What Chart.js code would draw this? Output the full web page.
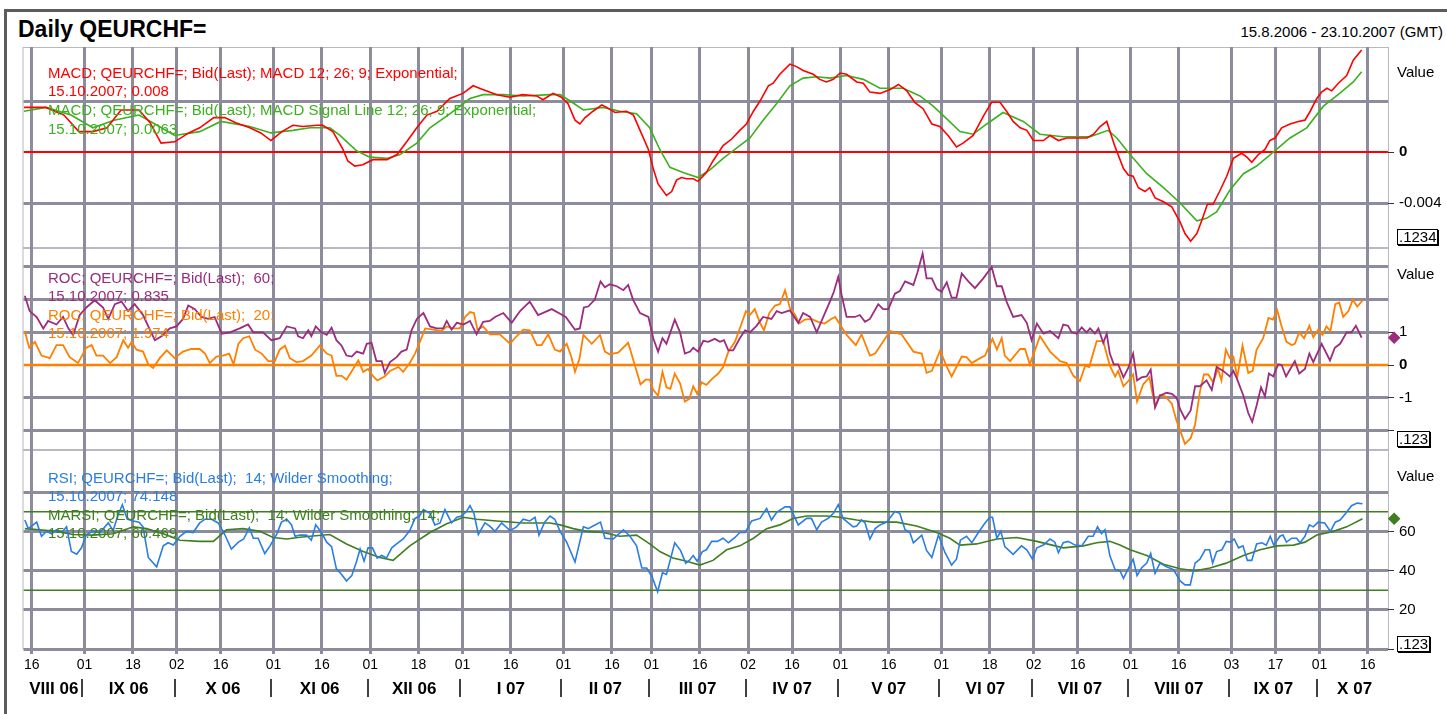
<!DOCTYPE html>
<html>
<head>
<meta charset="utf-8">
<title>Daily QEURCHF=</title>
<script src="https://cdn.jsdelivr.net/npm/chart.js@4.4.1/dist/chart.umd.min.js"></script>
<style>
  html, body { margin: 0; padding: 0; background: #fff; }
  body { position: relative; width: 1447px; height: 714px; overflow: hidden; font-family: 'Liberation Sans', Arial, sans-serif; }
  .frame { position: absolute; left: 4px; top: 9px; width: 1500px; height: 800px; border-top: 3px solid #5c5c5c; border-left: 3px solid #5c5c5c; }
  canvas { position: absolute; left: 0; }
  .t { position: absolute; white-space: pre; line-height: 1; font-size: 15px; }
  .box { position: absolute; border: 1px solid #000; box-shadow: 1px 1px 0 #000; font-size: 15px; line-height: 14px; height: 16px; padding-left: 1px; box-sizing: border-box; }
</style>
</head>
<body>
<div class="frame"></div>
<canvas id="macd" width="1447" height="201" style="top:47px"></canvas>
<canvas id="roc" width="1447" height="202" style="top:248px"></canvas>
<canvas id="rsi" width="1447" height="264" style="top:450px"></canvas>

<div class="t" style="left:18px;top:17.5px;font-size:23px;font-weight:bold">Daily QEURCHF=</div>
<div class="t" style="right:4px;top:23.6px">15.8.2006 - 23.10.2007 (GMT)</div>

<div class="t" style="left:48px;top:64.6px;color:#ff0000">MACD; QEURCHF=; Bid(Last); MACD 12; 26; 9; Exponential;</div>
<div class="t" style="left:48px;top:83.4px;color:#ff0000">15.10.2007; 0.008</div>
<div class="t" style="left:48px;top:102.1px;color:#3cb01e">MACD; QEURCHF=; Bid(Last); MACD Signal Line 12; 26; 9; Exponential;</div>
<div class="t" style="left:48px;top:120.6px;color:#3cb01e">15.10.2007; 0.0063</div>

<div class="t" style="left:48px;top:269.6px;color:#9b2c7e">ROC; QEURCHF=; Bid(Last);  60;</div>
<div class="t" style="left:48px;top:288.1px;color:#9b2c7e">15.10.2007; 0.835</div>
<div class="t" style="left:48px;top:306.6px;color:#ff8000">ROC; QEURCHF=; Bid(Last);  20;</div>
<div class="t" style="left:48px;top:325.1px;color:#ff8000">15.10.2007; 1.974</div>

<div class="t" style="left:48px;top:469.6px;color:#2a7de1">RSI; QEURCHF=; Bid(Last);  14; Wilder Smoothing;</div>
<div class="t" style="left:48px;top:487.6px;color:#2a7de1">15.10.2007; 74.148</div>
<div class="t" style="left:48px;top:506.6px;color:#3f7f1f">MARSI; QEURCHF=; Bid(Last);  14; Wilder Smoothing; 14;</div>
<div class="t" style="left:48px;top:524.6px;color:#3f7f1f">15.10.2007; 66.469</div>

<div class="t" style="left:1397px;top:63.6px">Value</div>
<div class="t" style="left:1397px;top:265.6px">Value</div>
<div class="t" style="left:1397px;top:467.6px">Value</div>
<div class="box" style="left:1397px;top:229px;width:41px">.1234</div>
<div class="box" style="left:1397px;top:431px;width:33px">.123</div>
<div class="box" style="left:1397px;top:636px;width:33px">.123</div>

<script>
// x positions are trading days counted from 15.8.2006 (= 0)
const dayTicks = [1, 13, 24, 34, 44, 56, 67, 78, 89, 99, 110, 122, 133, 142, 153, 164, 174, 185, 196, 208, 219, 229, 239, 251, 262, 274, 284, 294, 305];
const dayTickLabels = ['16', '01', '18', '02', '16', '01', '16', '01', '18', '01', '16', '01', '16', '01', '16', '02', '16', '01', '16', '01', '18', '02', '16', '01', '16', '03', '17', '01', '16'];
const monthLabels = ['VIII 06', 'IX 06', 'X 06', 'XI 06', 'XII 06', 'I 07', 'II 07', 'III 07', 'IV 07', 'V 07', 'VI 07', 'VII 07', 'VIII 07', 'IX 07', 'X 07'];
const monthStarts = [0, 13, 34, 56, 78, 99, 122, 142, 164, 185, 208, 229, 251, 274, 294];
const lastDay = 310;

// MACD 12;26;9
const macdDays = [-0.8, 4.2, 8.3, 11.7, 14.9, 18.1, 21.3, 25.4, 27.9, 30.4,
  33.5, 36.7, 39.2, 42.4, 44.9, 47.4, 50.6, 53.1, 55.4, 57.9,
  60.4, 62.7, 65.9, 67.2, 69.5, 71.8, 72.9, 74.5, 76.3, 78.6,
  81.8, 84.1, 86.3, 88.6, 90.9, 93.2, 96.1, 99.1, 101.4, 103.6,
  106.8, 109.8, 112.7, 115.9, 117.3, 119.6, 121.5, 123.0, 124.6, 125.7,
  126.9, 128.7, 130.7, 131.8, 133.7, 136.3, 137.9, 139.4, 141.3, 142.4,
  143.5, 145.4, 146.6, 147.7, 148.8, 150.0, 151.5, 152.6, 154.5, 156.0,
  158.3, 160.2, 162.1, 163.6, 165.2, 166.7, 168.6, 169.7, 171.2, 173.5,
  175.0, 176.5, 178.8, 180.3, 181.8, 183.4, 184.9, 186.4, 188.7, 190.2,
  191.7, 194.0, 196.3, 198.2, 200.1, 201.9, 203.8, 205.8, 207.6, 209.5,
  211.4, 212.9, 215.2, 217.5, 219.4, 221.3, 222.8, 224.3, 225.9, 227.4,
  228.9, 231.2, 232.7, 234.6, 236.5, 238.8, 241.1, 242.6, 244.1, 245.6,
  247.4, 249.4, 250.5, 251.6, 252.8, 254.3, 255.4, 256.6, 258.5, 260.4,
  262.3, 263.4, 264.7, 266.1, 267.2, 268.5, 269.8, 271.4, 272.9, 274.4,
  276.3, 277.5, 278.6, 280.1, 281.6, 282.7, 283.9, 285.4, 287.3, 289.2,
  290.7, 291.9, 293.4, 294.5, 295.7, 296.8, 298.3, 300.2, 301.7, 303.6];
const macdValues = [0.0035, 0.0035, 0.0029, 0.0016, 0.0016, 0.0019, 0.0033, 0.0033, 0.0023, 0.0007,
  0.0008, 0.0015, 0.0019, 0.0027, 0.0027, 0.0023, 0.0019, 0.0015, 0.0009, 0.0016,
  0.0021, 0.0020, 0.0021, 0.0021, 0.0016, 0.0002, -0.0007, -0.0011, -0.0010, -0.0006,
  -0.0006, -0.0002, 0.0008, 0.0019, 0.0029, 0.0032, 0.0042, 0.0046, 0.0052, 0.0049,
  0.0045, 0.0043, 0.0045, 0.0044, 0.0041, 0.0046, 0.0043, 0.0038, 0.0025, 0.0022,
  0.0027, 0.0032, 0.0037, 0.0035, 0.0031, 0.0032, 0.0029, 0.0017, 0.0002, -0.0013,
  -0.0025, -0.0034, -0.0031, -0.0022, -0.0020, -0.0021, -0.0021, -0.0023, -0.0016, -0.0007,
  0.0005, 0.0010, 0.0017, 0.0022, 0.0032, 0.0040, 0.0052, 0.0054, 0.0061, 0.0069,
  0.0067, 0.0064, 0.0061, 0.0057, 0.0055, 0.0057, 0.0062, 0.0061, 0.0055, 0.0054,
  0.0047, 0.0046, 0.0049, 0.0053, 0.0048, 0.0039, 0.0034, 0.0022, 0.0020, 0.0013,
  0.0004, 0.0007, 0.0013, 0.0028, 0.0039, 0.0039, 0.0032, 0.0024, 0.0019, 0.0017,
  0.0009, 0.0009, 0.0013, 0.0009, 0.0011, 0.0011, 0.0011, 0.0014, 0.0020, 0.0024,
  0.0005, -0.0013, -0.0018, -0.0019, -0.0028, -0.0031, -0.0028, -0.0036, -0.0039, -0.0043,
  -0.0055, -0.0064, -0.0070, -0.0064, -0.0054, -0.0041, -0.0041, -0.0030, -0.0019, -0.0005,
  -0.0001, -0.0004, -0.0008, -0.0002, 0.0002, 0.0009, 0.0011, 0.0019, 0.0022, 0.0024,
  0.0025, 0.0032, 0.0042, 0.0047, 0.0050, 0.0048, 0.0054, 0.0060, 0.0072, 0.0080];

// MACD signal line
const signalDays = [-0.8, 4.2, 9.9, 14.9, 19.7, 25.4, 29.5, 33.5, 39.2, 44.0,
  50.6, 55.4, 60.4, 64.3, 68.8, 71.1, 74.9, 77.9, 81.7, 84.8,
  88.6, 91.6, 96.1, 100.7, 103.7, 108.3, 112.8, 118.9, 121.2, 123.5,
  126.5, 131.0, 134.8, 138.6, 141.6, 143.9, 146.2, 149.2, 152.6, 155.3,
  158.3, 162.1, 164.4, 167.4, 170.5, 173.5, 176.5, 179.6, 182.6, 186.4,
  190.2, 194.0, 199.3, 203.1, 206.1, 209.2, 212.2, 215.2, 218.3, 222.0,
  226.6, 230.4, 235.7, 241.8, 245.9, 247.9, 250.9, 254.7, 258.5, 262.3,
  266.1, 268.3, 270.6, 273.6, 276.7, 279.7, 283.5, 287.3, 291.1, 294.9,
  298.6, 301.7, 303.6];
const signalValues = [0.0032, 0.0035, 0.0029, 0.0019, 0.0025, 0.0029, 0.0021, 0.0013, 0.0016, 0.0024,
  0.0020, 0.0015, 0.0017, 0.0019, 0.0019, 0.0013, 0.0001, -0.0004, -0.0005, -0.0002,
  0.0007, 0.0019, 0.0030, 0.0042, 0.0045, 0.0045, 0.0044, 0.0045, 0.0045, 0.0040,
  0.0033, 0.0035, 0.0032, 0.0030, 0.0019, 0.0002, -0.0012, -0.0016, -0.0020, -0.0014,
  -0.0005, 0.0005, 0.0011, 0.0025, 0.0038, 0.0052, 0.0058, 0.0059, 0.0058, 0.0060,
  0.0057, 0.0050, 0.0050, 0.0044, 0.0036, 0.0026, 0.0016, 0.0014, 0.0022, 0.0031,
  0.0024, 0.0014, 0.0012, 0.0012, 0.0017, 0.0011, -0.0002, -0.0017, -0.0028, -0.0040,
  -0.0054, -0.0052, -0.0047, -0.0030, -0.0017, -0.0011, 0.0000, 0.0011, 0.0019, 0.0036,
  0.0046, 0.0055, 0.0063];

// ROC 60
const roc60Days = [-0.6, 0.5, 2.1, 3.6, 4.7, 6.6, 8.1, 9.3, 10.4, 11.9,
  13.4, 15.3, 17.2, 18.4, 19.9, 21.4, 22.9, 24.4, 26.3, 27.5,
  29.0, 30.5, 32.4, 33.9, 35.4, 36.6, 38.1, 39.6, 41.1, 42.6,
  44.2, 46.1, 48.3, 50.2, 51.4, 53.6, 55.5, 57.4, 59.0,
  60.9, 61.6, 62.7, 63.9, 64.6, 65.6, 66.9, 68.1, 69.2, 70.3,
  71.5, 72.6, 73.8, 74.9, 76.4, 77.2, 78.3, 79.4, 80.6, 81.3,
  82.5, 84.0, 85.1, 86.3, 87.4, 88.6, 90.1, 91.6, 93.1, 94.6,
  95.4, 96.5, 97.7, 99.2, 100.7, 102.2, 103.7, 105.2, 106.4, 108.3,
  110.2, 112.1, 114.3, 116.2, 119.3, 121.2,
  122.5, 124.6, 125.7, 126.6, 127.6, 129.1, 130.4, 131.4, 132.5, 134.1,
  135.6, 136.7, 137.8, 139.4, 141.3, 142.4, 143.5, 144.5, 145.4, 147.3,
  148.5, 149.6, 150.8, 151.5, 152.6, 153.8, 154.9, 156.4, 157.6, 158.5,
  159.5, 160.6, 162.1, 163.3, 164.4, 165.9, 167.4, 169.3, 170.5, 171.6,
  173.5, 175.4, 176.5, 178.1, 179.6, 181.1,
  182.6, 183.5, 184.5, 185.3, 186.4, 188.3, 189.4, 190.6, 191.7, 193.6,
  194.7, 195.9, 197.4, 198.5, 199.7, 201.6, 202.5, 203.7, 204.6, 205.8,
  206.9, 208.0, 209.2, 210.3, 211.4, 212.6, 214.1, 215.6, 217.5, 219.4,
  220.6, 221.7, 222.8, 224.3, 226.2, 227.4, 228.5, 229.7, 231.2, 232.7,
  234.6, 235.7, 236.8, 237.6, 238.8, 239.9, 241.0, 241.8, 242.9, 243.7,
  244.8, 245.6, 246.3, 247.2, 248.2, 249.4, 250.5, 251.6, 252.5, 253.5,
  254.7, 255.6, 256.6, 257.7, 259.2, 260.4, 261.5, 262.3, 263.4, 264.7,
  265.7, 266.8, 268.3, 269.5, 270.6, 272.1, 273.6, 274.4, 275.2, 276.7,
  277.8, 278.7, 279.7, 280.7, 281.6, 282.5, 283.5, 284.6, 285.4, 286.4,
  287.5, 288.4, 289.4, 290.7, 291.7, 292.6, 294.5, 296.4, 297.5, 298.7,
  300.2, 301.3, 302.3, 303.6];
const roc60Values = [2.12, 1.65, 1.47, 1.12, 1.35, 1.24, 1.47, 1.12, 0.92, 1.53,
  1.76, 1.98, 1.76, 1.41, 1.86, 1.94, 1.65, 1.86, 1.53, 1.18,
  0.76, 0.88, 1.12, 1.18, 1.41, 1.82, 1.71, 1.47, 1.41, 1.47,
  0.96, 1.00, 1.12, 1.24, 1.00, 1.00, 0.76, 0.82, 1.18,
  1.12, 0.88, 0.82, 1.06, 0.88, 1.18, 1.00, 0.92, 1.14, 0.76,
  0.59, 0.29, 0.26, 0.41, 0.35, 0.65, 0.68, 0.12, 0.12, -0.24,
  0.09, 0.24, 0.41, 0.47, 1.06, 1.41, 1.59, 1.18, 1.12, 1.12,
  1.35, 1.08, 1.29, 1.24, 1.35, 0.94, 1.32, 1.35, 1.47, 1.59,
  1.29, 1.65, 1.94, 1.53, 1.71, 1.57,
  1.47, 1.08, 1.12, 1.76, 1.79, 2.00, 2.56, 2.38, 2.47, 2.41,
  2.29, 2.45, 2.00, 1.59, 1.47, 0.82, 0.41, 0.82, 0.65, 1.39,
  1.00, 0.35, 0.41, 0.53, 0.41, 0.74, 0.71, 0.80, 0.71, 0.76,
  0.45, 0.45, 0.82, 1.06, 1.00, 1.20, 1.47, 1.41, 1.65, 1.59,
  1.67, 1.29, 1.59, 1.47, 1.00, 1.47,
  1.94, 2.24, 2.70, 2.12, 1.47, 1.47, 1.53, 1.32, 1.41, 1.86,
  1.71, 1.71, 2.18, 2.26, 2.56, 2.45, 2.82, 3.41, 2.65, 2.65,
  2.33, 2.24, 2.53, 2.06, 2.06, 2.80, 2.56, 2.35, 2.65, 3.00,
  2.41, 2.41, 1.94, 1.47, 1.53, 1.29, 0.76, 1.27, 0.96, 1.04,
  0.82, 1.24, 1.20, 1.00, 0.96, 1.15, 1.00, 1.12, 0.96, 1.12,
  0.68, 0.96, 0.35, 0.02, 0.02, -0.38, -0.09, 0.35, -0.47, -0.38,
  -0.35, -0.14, -1.29, -0.94, -0.85, -0.88, -1.00, -1.35, -1.65, -1.39,
  -0.65, -0.65, -0.47, -0.76, -0.06, -0.18, -0.35, -0.18, -0.41, -0.94,
  -1.47, -1.74, -1.24, -0.68, -0.96, -0.26, -0.35, 0.02, 0.00, -0.35,
  -0.09, 0.12, -0.26, -0.12, 0.35, 0.09, 0.65, 0.14, 0.53, 0.65,
  1.00, 1.00, 1.20, 0.835];

// ROC 20
const roc20Days = [-0.6, 0.4, 1.7, 3.2, 5.1, 6.6, 8.1, 9.6, 11.5, 13.4,
  14.6, 15.7, 17.2, 18.8, 20.3, 21.8, 22.9, 23.7, 24.8, 26.3,
  27.5, 28.6, 30.1, 31.7, 33.5, 35.4, 37.3, 39.2, 40.4, 41.5,
  43.0, 44.5, 45.9, 46.9, 48.0, 49.1, 50.5, 51.8, 53.3, 54.8,
  56.3, 57.4, 58.6,
  59.7, 61.2, 62.7, 64.6, 66.5, 68.1, 69.2, 70.3, 71.5, 72.6,
  74.1, 75.3, 76.4, 77.5, 78.7, 79.6, 81.3, 82.5, 84.4, 85.5,
  87.0, 88.2, 89.3, 90.5, 92.3, 94.2, 95.4, 96.9, 98.4, 99.6,
  100.7, 101.6, 102.4, 103.7, 105.2, 107.5, 109.8, 111.3, 112.8, 114.3,
  115.9, 117.0, 118.5, 120.0,
  121.2, 122.7, 123.8, 124.6, 125.6, 126.5, 128.4, 130.3, 131.4, 132.5,
  134.4, 136.7, 138.2, 139.5, 140.7, 141.6, 142.4, 143.5, 144.5, 145.4,
  146.3, 147.3, 148.5, 149.6, 150.6, 151.5, 152.4, 153.4, 154.5, 155.9,
  157.2, 158.3, 159.5, 161.0, 162.5, 163.5, 164.4, 165.5, 166.7, 167.6,
  168.8, 170.1, 171.2, 172.4, 173.5, 174.7, 175.6, 176.9, 178.4, 179.9,
  181.4, 182.9,
  183.8, 184.9, 186.4, 188.5, 189.8, 191.7, 192.9, 194.7, 196.3, 198.9,
  201.6, 203.5, 204.6, 205.8, 207.7, 209.2, 210.3, 212.6, 213.7, 214.9,
  216.4, 217.9, 219.6, 220.6, 221.7, 222.4, 223.6, 225.9, 227.0, 228.1,
  230.4, 232.7, 235.0, 236.5, 238.0, 239.5, 240.7, 241.6, 243.3, 244.8,
  246.3, 247.5, 248.2, 249.4, 250.5, 251.6, 252.5, 253.9, 255.3, 256.6,
  257.7, 258.9, 260.4, 261.5, 263.4, 264.7, 265.7, 266.8, 267.7, 268.7,
  269.8, 270.9, 271.7, 272.7, 273.6, 274.4, 275.3, 276.5, 277.8, 278.8,
  279.7, 281.2, 282.4, 283.4, 284.4, 285.4, 286.5, 287.7, 288.4, 289.4,
  290.5, 291.7, 292.6, 293.7, 294.7, 295.6, 296.5, 297.6, 298.5, 299.4,
  300.6, 301.6, 302.6, 303.8];
const roc20Values = [1.04, 0.53, 0.71, 0.29, 0.21, 0.61, 0.61, 0.24, 0.06, 0.53,
  0.61, 0.29, 0.29, 0.06, 0.24, 0.76, 0.53, 0.71, 0.47, 0.41,
  0.02, -0.09, 0.21, 0.45, 0.21, 0.41, 0.49, 0.49, 0.35, 0.06,
  0.26, 0.29, 0.35, 0.02, 0.65, 0.82, 0.88, 0.47, 0.35, 0.12,
  0.12, 0.47, 0.59,
  0.21, 0.09, 0.12, 0.29, 0.59, 0.35, 0.29, -0.33, -0.33, -0.45,
  -0.12, 0.14, -0.21, -0.12, -0.35, -0.47, -0.35, -0.18, -0.06, -0.21,
  0.06, 0.35, 0.71, 1.12, 1.08, 1.04, 1.18, 1.12, 1.12, 1.47,
  1.62, 1.59, 1.08, 1.18, 0.94, 0.94, 0.65, 0.88, 1.08, 1.06,
  0.61, 0.61, 0.94, 0.47,
  0.41, 0.65, 0.24, -0.21, 0.18, 0.92, 0.65, 0.92, 0.41, 0.33,
  0.38, 0.68, 0.00, -0.59, -0.45, -0.45, -0.76, -0.94, -0.21, -0.68,
  -0.73, -0.26, -0.56, -1.12, -1.04, -0.65, -0.88, -0.53, -0.61, -0.41,
  -0.26, -0.06, 0.41, 0.71, 1.27, 1.65, 1.53, 1.71, 1.29, 1.06,
  1.59, 1.82, 1.86, 2.29, 1.74, 1.53, 1.27, 1.39, 1.41, 1.32,
  1.27, 1.41,
  1.47, 1.24, 0.92, 0.61, 0.94, 0.29, 0.35, 0.71, 1.04, 0.94,
  0.41, 0.35, -0.24, -0.18, 0.45, -0.06, -0.35, 0.26, 0.24, 0.06,
  0.18, 0.29, 0.80, 0.47, 0.82, 0.29, 0.12, 0.49, 0.49, 0.02,
  0.88, 0.41, 0.12, 0.06, -0.33, -0.49, -0.02, -0.06, 0.73, 0.73,
  -0.02, -0.35, -0.18, -0.65, -0.49, -0.29, -1.12, -0.59, -0.38, -1.29,
  -0.92, -0.96, -1.18, -1.71, -2.41, -2.24, -1.82, -0.82, -0.29, -0.29,
  -0.53, -0.12, -0.47, 0.47, 0.21, 0.26, -0.38, 0.59, -0.24, -0.18,
  0.47, 0.82, 1.44, 1.39, 1.67, 1.18, 0.71, 0.61, 0.65, 1.00,
  0.82, 1.20, 0.85, 1.08, 0.92, 1.18, 1.04, 1.86, 1.91, 1.47,
  1.65, 2.00, 1.79, 1.974];

// RSI 14
const rsiDays = [-0.6, 0.2, 1.3, 2.1, 3.2, 4.3, 5.5, 6.6, 7.8, 8.9,
  10.0, 11.2, 12.3, 13.4, 14.9, 16.5, 18.4, 19.5, 20.6, 21.6,
  22.7, 24.1, 25.4, 26.3, 27.5, 29.4, 30.9, 32.0, 33.2, 34.7,
  36.2, 37.7, 39.2, 40.4, 41.9, 43.4, 44.9, 46.4, 48.0, 49.2,
  50.5, 51.4, 52.5, 54.0, 55.2, 56.7, 57.8, 59.0, 60.1,
  60.9, 62.0, 63.5, 64.6, 65.6, 66.9, 68.1, 69.2, 70.3, 71.5,
  72.6, 73.8, 74.9, 75.7, 76.6, 77.5, 78.5, 79.6, 80.6, 81.7,
  82.9, 84.0, 85.5, 87.0, 88.2, 89.2, 90.1, 91.6, 92.7, 93.9,
  95.0, 96.5, 97.7, 98.8, 99.9, 100.7, 101.6, 102.6, 104.1, 105.2,
  106.4, 107.9, 109.8, 111.3, 112.8, 114.3, 115.5, 116.4, 117.7, 118.9,
  120.0,
  121.2, 122.7, 124.6, 126.5, 127.6, 128.7, 130.4, 131.4, 133.3, 135.6,
  137.1, 138.6, 139.8, 140.9, 142.1, 143.4, 144.5, 145.4, 147.3, 148.6,
  149.8, 150.6, 151.5, 152.4, 153.6, 154.5, 155.7, 157.0, 158.3, 159.5,
  161.0, 162.1, 163.3, 164.8, 166.7, 168.2, 169.3, 170.5, 172.4, 173.5,
  175.4, 177.3, 178.4, 179.6, 180.7, 182.2,
  183.4, 184.5, 185.6, 186.8, 187.9, 188.7, 189.8, 190.6, 191.7, 192.9,
  194.0, 195.5, 197.4, 198.5, 199.7, 200.8, 201.6, 203.5, 204.6, 205.8,
  207.3, 208.8, 210.3, 211.4, 212.3, 213.7, 214.9, 216.4, 217.9, 219.0,
  219.6, 220.6, 221.5, 222.4, 224.3, 226.2, 227.4, 228.7, 229.7, 231.2,
  232.7, 233.8, 234.6, 235.7, 236.8, 238.4, 239.9, 241.4, 242.5, 243.5,
  244.4, 245.2, 246.3,
  247.5, 248.6, 249.4, 250.7, 251.6, 252.5, 253.5, 254.7, 255.6, 256.6,
  257.7, 259.2, 260.8, 262.3, 263.4, 264.6, 265.7, 266.8, 268.0, 269.0,
  269.7, 270.6, 271.8, 272.8, 273.8, 274.6, 275.6, 276.6, 277.6, 278.6,
  279.7, 280.9, 281.9, 282.8, 283.6, 285.0, 285.7, 286.5, 287.7, 288.8,
  289.6, 290.7, 291.7, 292.6, 293.7, 295.2, 296.5, 297.6, 298.7, 300.0,
  301.3, 302.6, 303.8];
const rsiValues = [65.8, 61.4, 63.3, 64.7, 57.5, 60.0, 58.8, 60.8, 59.4, 62.3,
  49.7, 48.3, 51.6, 58.4, 60.0, 59.4, 64.3, 60.4, 68.2, 73.6,
  66.2, 65.3, 64.7, 62.3, 46.7, 41.9, 52.6, 54.2, 53.0, 57.5,
  60.0, 59.4, 64.3, 66.2, 66.2, 64.3, 58.4, 51.0, 54.5, 56.1,
  61.9, 56.5, 56.5, 48.7, 52.6, 58.4, 64.7, 66.2, 63.3,
  57.5, 58.1, 58.1, 55.5, 63.3, 59.4, 54.5, 52.2, 40.9, 38.0,
  34.7, 37.4, 44.8, 51.0, 44.8, 51.6, 51.6, 46.4, 47.7, 46.4,
  51.6, 53.6, 56.1, 60.4, 66.6, 67.8, 71.1, 69.2, 63.3, 64.3,
  71.1, 64.3, 67.2, 67.8, 70.1, 73.1, 69.2, 58.4, 64.3, 62.7,
  60.0, 64.3, 60.4, 62.3, 66.2, 65.3, 67.2, 58.1, 64.7, 67.8,
  66.2,
  60.0, 54.5, 44.4, 62.3, 61.4, 62.7, 64.7, 56.5, 56.1, 60.8,
  57.5, 52.6, 41.3, 41.3, 37.0, 29.2, 38.9, 38.0, 54.2, 50.3,
  43.8, 45.2, 47.7, 44.8, 49.7, 50.6, 54.9, 54.9, 56.5, 54.2,
  56.9, 59.4, 59.4, 65.3, 66.6, 71.7, 65.8, 69.7, 72.5, 72.5,
  63.3, 66.6, 66.6, 60.8, 64.7, 66.6,
  69.2, 73.6, 66.6, 64.3, 62.3, 62.7, 65.8, 64.3, 56.1, 61.4,
  63.3, 64.7, 70.1, 69.2, 60.8, 59.4, 54.2, 58.1, 50.3, 46.7,
  58.1, 49.1, 42.8, 45.8, 55.5, 57.5, 54.2, 59.4, 64.3, 67.2,
  67.2, 56.5, 60.0, 52.2, 48.3, 52.6, 50.6, 45.8, 51.6, 53.0,
  56.1, 54.5, 49.1, 54.2, 54.9, 53.0, 52.6, 57.5, 57.5, 62.3,
  58.8, 60.8, 47.7,
  40.5, 39.9, 36.0, 41.9, 45.8, 37.4, 41.3, 43.8, 48.7, 38.6,
  43.8, 41.9, 40.5, 34.7, 32.7, 32.7, 43.8, 45.8, 50.6, 50.6,
  43.8, 49.7, 50.6, 54.9, 54.5, 56.1, 51.6, 52.6, 45.2, 45.2,
  53.6, 54.2, 53.0, 57.5, 53.0, 57.5, 58.1, 54.5, 56.5, 56.5,
  54.2, 57.5, 63.3, 62.3, 64.7, 64.3, 60.0, 64.7, 65.8, 69.2,
  73.1, 74.4, 74.1];

// MARSI 14
const marsiDays = [-0.6, 2.8, 6.6, 10.4, 14.9, 19.5, 24.1, 27.1, 30.9, 34.7,
  39.2, 42.3, 45.3, 49.1, 52.9, 55.9, 59.0, 62.0, 64.3, 68.8,
  72.6, 76.4, 80.2, 83.2, 87.0, 91.6, 95.4, 99.2, 102.2, 106.8,
  112.8, 118.9, 121.2, 124.2, 127.2, 131.0, 134.8, 138.6, 141.6, 143.9,
  146.9, 150.0, 153.0, 156.0, 159.1, 162.1, 165.2, 168.2, 171.2, 174.2,
  177.3, 181.8, 184.9, 188.7, 192.5, 197.8, 202.3, 206.9, 209.9, 212.2,
  216.0, 220.6, 225.1, 229.7, 235.7, 240.3, 243.3, 246.3, 248.6, 250.9,
  254.7, 258.5, 262.3, 265.7, 269.1, 272.8, 276.7, 280.5, 284.3, 288.1,
  290.7, 293.4, 297.2, 300.2, 303.8];
const marsiValues = [61.4, 60.8, 60.0, 58.4, 58.1, 58.8, 62.3, 61.4, 58.8, 55.5,
  54.9, 54.9, 60.8, 61.4, 60.0, 56.9, 56.1, 57.0, 57.5, 58.4,
  53.6, 49.7, 46.7, 45.2, 52.6, 59.4, 63.9, 67.2, 66.2, 65.3,
  64.3, 64.3, 63.3, 61.4, 60.0, 59.4, 57.5, 58.1, 53.6, 49.7,
  46.4, 44.8, 42.8, 45.2, 50.6, 52.6, 56.5, 61.4, 63.3, 66.6,
  67.8, 67.8, 67.2, 65.8, 64.7, 64.7, 62.7, 59.4, 56.5, 53.0,
  53.6, 56.1, 56.9, 54.9, 51.6, 52.6, 54.2, 54.9, 53.0, 50.6,
  47.7, 43.2, 40.9, 39.9, 41.3, 43.8, 47.7, 50.6, 52.6, 53.0,
  54.5, 58.1, 60.0, 62.3, 66.469];

const rsiLevels = [70, 30];
const macdTicks = [-0.004, 0, 0.004], macdTickLabels = ['-0.004', '0', ''];
const rocTicks = [-2, -1, 0, 1, 2, 3], rocTickLabels = ['', '-1', '0', '1', '', ''];
const rsiTicks = [0, 20, 40, 60, 80], rsiTickLabels = ['', '20', '40', '60', ''];

const FONT = "'Liberation Sans', Arial, sans-serif";
const GRID = '#8c8c9c';
const X_MIN = -0.9, X_MAX = 309.6;
const PLOT_LEFT = 23.5, AXIS_W = 59;
const markerDay = 311;

Chart.defaults.font.family = FONT;

function pts(days, values) {
  return days.map((d, k) => ({ x: d, y: values[k] }));
}
function flat(v) {
  return [{ x: X_MIN, y: v }, { x: X_MAX, y: v }];
}
function line(data, color, width) {
  return { data, borderColor: color, borderWidth: width, pointRadius: 0, fill: false, tension: 0 };
}
function marker(y, color) {
  return {
    data: [{ x: markerDay, y }], showLine: false, clip: false,
    pointStyle: 'rectRot', pointRadius: 4.5, pointBorderWidth: 2.5,
    pointBackgroundColor: color, pointBorderColor: color, borderColor: color
  };
}

// thin light frame round each panel, under the grid
const framePlugin = {
  id: 'frame',
  beforeDraw(chart) {
    const a = chart.chartArea, ctx = chart.ctx;
    ctx.save();
    ctx.strokeStyle = '#b8b8c0';
    ctx.lineWidth = 1;
    ctx.strokeRect(a.left - 0.5, a.top + 0.5, a.right - a.left + 1, a.bottom - a.top - 1);
    ctx.restore();
  }
};

// month names under the day ticks, with separators
const monthPlugin = {
  id: 'months',
  afterDraw(chart) {
    const x = chart.scales.x, ctx = chart.ctx;
    ctx.save();
    ctx.fillStyle = '#000';
    ctx.font = 'bold 17px ' + FONT;
    ctx.textAlign = 'center';
    ctx.textBaseline = 'middle';
    monthLabels.forEach((m, k) => {
      const end = k + 1 < monthStarts.length ? monthStarts[k + 1] - 1 : lastDay;
      ctx.fillText(m, x.getPixelForValue((monthStarts[k] + end) / 2), 239);
    });
    ctx.strokeStyle = '#000';
    ctx.lineWidth = 1.5;
    monthStarts.slice(1).forEach(s => {
      const px = Math.round(x.getPixelForValue(s - 0.5));
      ctx.beginPath();
      ctx.moveTo(px, 229);
      ctx.lineTo(px, 247);
      ctx.stroke();
    });
    ctx.restore();
  }
};

function xScale(showDays) {
  return {
    type: 'linear', min: X_MIN, max: X_MAX,
    afterBuildTicks: s => { s.ticks = dayTicks.map(v => ({ value: v })); },
    afterFit: s => {
      s.height = showDays ? 65 : 0;
      s.paddingLeft = 0; s.paddingRight = 0;
    },
    border: { display: false },
    grid: { color: GRID, lineWidth: 3, drawTicks: showDays, tickLength: 5, tickColor: GRID, tickWidth: 3 },
    ticks: {
      display: showDays, autoSkip: false, maxRotation: 0, padding: 3, color: '#000',
      font: { size: 14 }, callback: (v, i) => dayTickLabels[i]
    }
  };
}

function panel(id, p) {
  return new Chart(document.getElementById(id), {
    type: 'line',
    data: { datasets: p.datasets },
    options: {
      responsive: false, animation: false, devicePixelRatio: 1,
      layout: { autoPadding: false, padding: { left: PLOT_LEFT, right: 0, top: 0, bottom: 0 } },
      plugins: { legend: { display: false }, tooltip: { enabled: false } },
      scales: {
        x: xScale(p.showDays),
        y: {
          type: 'linear', position: 'right', min: p.min, max: p.max,
          afterBuildTicks: s => { s.ticks = p.ticks.map(v => ({ value: v })); },
          afterFit: s => {
            s.width = AXIS_W;
            s.paddingTop = 0; s.paddingBottom = 0;
          },
          border: { display: false },
          grid: {
            color: c => (p.hideZero && c.tick && c.tick.value === 0) ? 'rgba(0,0,0,0)' : GRID,
            lineWidth: 3, tickLength: 6, tickWidth: 1,
            tickColor: c => p.marks[c.index] ? '#333' : 'rgba(0,0,0,0)'
          },
          ticks: {
            padding: 5, color: '#000',
            font: c => ({ size: 15, weight: (c.tick && c.tick.value === 0) ? 'bold' : 'normal' }),
            callback: (v, i) => p.labels[i]
          }
        }
      }
    },
    plugins: [framePlugin].concat(p.plugins || [])
  });
}

panel('macd', {
  min: -0.00753, max: 0.00824, ticks: macdTicks, labels: macdTickLabels,
  marks: [true, true, false], hideZero: true, showDays: false,
  datasets: [
    line(pts(macdDays, macdValues), '#ff0000', 1.6),
    line(pts(signalDays, signalValues), '#3cb01e', 1.6),
    line(flat(0), '#ff0000', 2)
  ]
});

panel('roc', {
  min: -2.6, max: 3.58, ticks: rocTicks, labels: rocTickLabels,
  marks: [true, true, true, true, false, false], hideZero: true, showDays: false,
  datasets: [
    marker(roc60Values[roc60Values.length - 1], '#9b2c7e'),
    line(pts(roc60Days, roc60Values), '#9b2c7e', 1.8),
    line(pts(roc20Days, roc20Values), '#ff8000', 1.8),
    line(flat(0), '#ff8000', 2.5)
  ]
});

panel('rsi', {
  min: 0, max: 101.5, ticks: rsiTicks, labels: rsiTickLabels,
  marks: [true, true, true, true, false], hideZero: false, showDays: true,
  plugins: [monthPlugin],
  datasets: [
    marker(marsiValues[marsiValues.length - 1], '#3f7f1f'),
    line(pts(rsiDays, rsiValues), '#2a7de1', 1.6),
    line(pts(marsiDays, marsiValues), '#3f7f1f', 1.6),
    line(flat(rsiLevels[0]), '#3f7f1f', 1.5),
    line(flat(rsiLevels[1]), '#3f7f1f', 1.5)
  ]
});
</script>
</body>
</html>
